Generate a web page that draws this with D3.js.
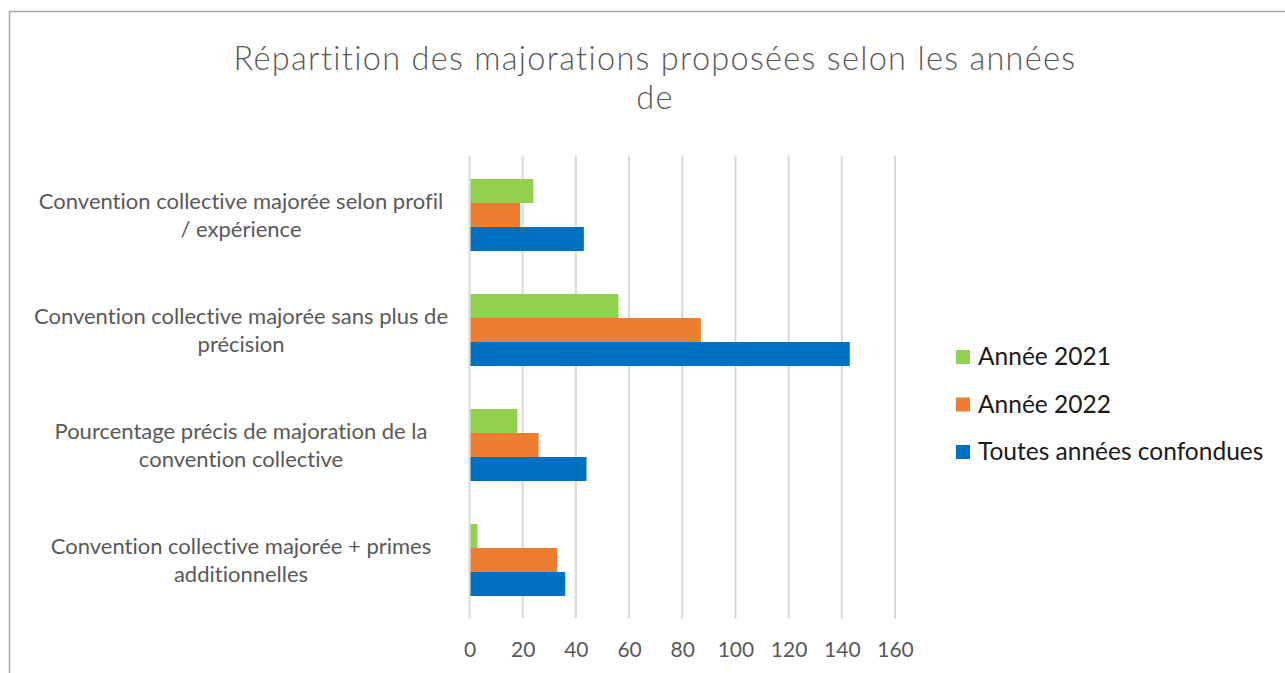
<!DOCTYPE html>
<html>
<head>
<meta charset="utf-8">
<script src="https://cdn.jsdelivr.net/npm/d3@7"></script>
<style>
  html, body { margin: 0; padding: 0; background: #fff; }
  svg text { font-family: Lato, "Open Sans", sans-serif; font-variant-ligatures: none; }
</style>
</head>
<body>
<div id="chart"></div>
<script>
const categories = [
    ["Convention collective majorée selon profil", "/ expérience"],
    ["Convention collective majorée sans plus de", "précision"],
    ["Pourcentage précis de majoration de la", "convention collective"],
    ["Convention collective majorée + primes", "additionnelles"]
];
const seriesNames = ["Année 2021", "Année 2022", "Toutes années confondues"];
const seriesColors = ["#92D050", "#ED7D31", "#0070C0"];
const annee2021 = [24, 56, 18, 3];
const annee2022 = [19, 87, 26, 33];
const toutes = [43, 143, 44, 36];
const xTicks = [0, 20, 40, 60, 80, 100, 120, 140, 160];
const titleLines = ["Répartition des majorations proposées selon les années", "de"];

const width = 1285, height = 673;
const plot = { left: 469.5, right: 895, top: 157.5, bottom: 617.5 };

const svg = d3.select("#chart").append("svg")
    .attr("width", width)
    .attr("height", height);

// cadre du graphique (bords gauche et haut visibles)
svg.append("path")
    .attr("d", `M9.5,${height} L9.5,11.5 L${width},11.5`)
    .attr("fill", "none")
    .attr("stroke", "#a6a6a6")
    .attr("stroke-width", 1.5);

// titre
svg.append("g").selectAll("text")
    .data(titleLines)
    .enter().append("text")
    .attr("x", 655)
    .attr("y", (d, i) => 70 + i * 39)
    .attr("text-anchor", "middle")
    .style("font-size", "32.5px")
    .style("letter-spacing", "1.3px")
    .style("font-weight", 300)
    .style("fill", "#595959")
    .text(d => d);

const x = d3.scaleLinear().domain([0, 160]).range([plot.left, plot.right]);

const y = d3.scaleBand()
    .domain(d3.range(categories.length))
    .range([plot.top, plot.bottom])
    .paddingInner(0.374)
    .paddingOuter(0.187);

const ySub = d3.scaleBand()
    .domain(d3.range(seriesNames.length))
    .range([0, y.bandwidth()]);

// lignes de quadrillage
svg.append("g")
    .attr("class", "grid")
    .selectAll("line")
    .data(xTicks)
    .enter().append("line")
    .attr("x1", d => x(d))
    .attr("x2", d => x(d))
    .attr("y1", plot.top - 2)
    .attr("y2", plot.bottom + 1)
    .attr("stroke", "#d9d9d9")
    .attr("stroke-width", 2);

// barres
const values = [annee2021, annee2022, toutes];
const rows = [];
categories.forEach((c, ci) => {
    values.forEach((arr, si) => rows.push({ ci, si, v: arr[ci] }));
});

svg.append("g")
    .attr("class", "bars")
    .selectAll("rect")
    .data(rows)
    .enter().append("rect")
    .attr("x", x(0) + 1)
    .attr("y", d => y(d.ci) + ySub(d.si))
    .attr("width", d => x(d.v) - x(0) - 1)
    .attr("height", ySub.bandwidth())
    .attr("fill", d => seriesColors[d.si]);

// axe des x
const xAxis = svg.append("g")
    .attr("transform", `translate(0,${plot.bottom})`)
    .call(d3.axisBottom(x).tickValues(xTicks).tickSize(0).tickPadding(25));
xAxis.select(".domain").remove();
xAxis.selectAll("text")
    .style("font-family", "Lato, sans-serif")
    .style("font-size", "21px")
    .style("fill", "#595959");

// étiquettes des catégories
const catLabels = svg.append("g")
    .selectAll("text")
    .data(categories)
    .enter().append("text")
    .attr("text-anchor", "middle")
    .attr("x", 241)
    .attr("y", (d, i) => y(i) + y.bandwidth() / 2 - 6)
    .style("font-size", "22px")
    .style("fill", "#595959");

catLabels.selectAll("tspan")
    .data(d => d)
    .enter().append("tspan")
    .attr("x", 241)
    .attr("dy", (d, i) => i === 0 ? 0 : 28)
    .text(d => d);

// légende
const legend = svg.append("g")
    .selectAll("g")
    .data(seriesNames)
    .enter().append("g")
    .attr("transform", (d, i) => `translate(956,${357 + i * 47.5})`);

legend.append("rect")
    .attr("x", 0)
    .attr("y", -7)
    .attr("width", 14)
    .attr("height", 14)
    .attr("fill", (d, i) => seriesColors[i]);

legend.append("text")
    .attr("x", 22)
    .attr("y", 8)
    .style("font-size", "24.5px")
    .style("fill", "#1a1a1a")
    .text(d => d);
</script>
</body>
</html>
